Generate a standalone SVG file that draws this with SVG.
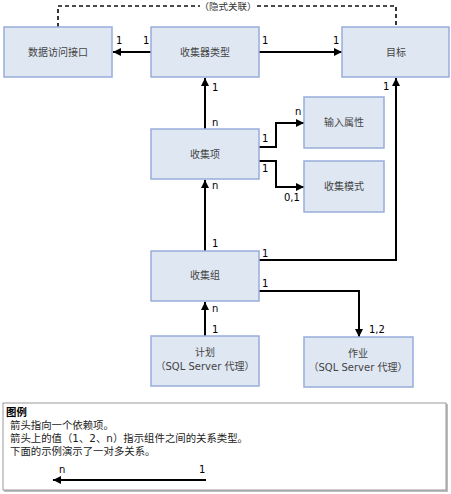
<svg xmlns="http://www.w3.org/2000/svg" width="451" height="494" viewBox="0 0 451 494">
<defs>
<marker id="ah" viewBox="0 0 10 10" refX="10" refY="5" markerWidth="8" markerHeight="8" markerUnits="userSpaceOnUse" orient="auto">
<path d="M0,0 L10,5 L0,10 z" fill="#000"/>
</marker>
</defs>
<style>
.box{fill:#dfe7f3;stroke:#98addb;stroke-width:1.5}
.t{font-family:"DejaVu Sans","Noto Sans CJK SC",sans-serif;font-size:10px;fill:#444;text-anchor:middle}
.lbl{font-family:"DejaVu Sans",sans-serif;font-size:10px;fill:#000}
.c{fill:none;stroke:#000;stroke-width:2}
.d{fill:none;stroke:#111;stroke-width:1.7;stroke-dasharray:4,3}
.lt{font-family:"DejaVu Sans","Noto Sans CJK SC",sans-serif;font-size:10.4px;fill:#222}
</style>
<rect width="451" height="494" fill="#fff"/>
<g id="connectors">
<path class="d" d="M58,27 V6 H200"/>
<path class="d" d="M257,6 H396 V27"/>
<text class="t" x="228" y="10" style="fill:#333;font-size:9.5px">（隐式关联）</text>
<path class="c" d="M151,52 H113" marker-end="url(#ah)"/>
<path class="c" d="M259,52 H342" marker-end="url(#ah)"/>
<path class="c" d="M205,129 V78" marker-end="url(#ah)"/>
<path class="c" d="M259,147 H276 V123 H304" marker-end="url(#ah)"/>
<path class="c" d="M259,161 H276 V187 H304" marker-end="url(#ah)"/>
<path class="c" d="M205,251 V180" marker-end="url(#ah)"/>
<path class="c" d="M259,260 H396 V78" marker-end="url(#ah)"/>
<path class="c" d="M259,291 H359 V337" marker-end="url(#ah)"/>
<path class="c" d="M205,336 V302" marker-end="url(#ah)"/>
<text class="lbl" x="116" y="44">1</text>
<text class="lbl" x="143" y="44">1</text>
<text class="lbl" x="262" y="44">1</text>
<text class="lbl" x="333" y="44">1</text>
<text class="lbl" x="212" y="91">1</text>
<text class="lbl" x="212" y="126">n</text>
<text class="lbl" x="383" y="90">1</text>
<text class="lbl" x="262" y="142">1</text>
<text class="lbl" x="295" y="115">n</text>
<text class="lbl" x="262" y="172">1</text>
<text class="lbl" x="284" y="201">0,1</text>
<text class="lbl" x="212" y="189">n</text>
<text class="lbl" x="212" y="247">1</text>
<text class="lbl" x="262" y="257">1</text>
<text class="lbl" x="262" y="287">1</text>
<text class="lbl" x="369" y="333">1,2</text>
<text class="lbl" x="212" y="312">n</text>
<text class="lbl" x="212" y="333">1</text>
</g>
<g id="n-dai">
<rect class="box" x="4" y="27" width="108" height="50"/>
<text class="t" x="58" y="56">数据访问接口</text>
</g>
<g id="n-ctype">
<rect class="box" x="151" y="27" width="108" height="50"/>
<text class="t" x="205" y="56">收集器类型</text>
</g>
<g id="n-target">
<rect class="box" x="342" y="27" width="107" height="50"/>
<text class="t" x="396" y="56">目标</text>
</g>
<g id="n-item">
<rect class="box" x="151" y="129" width="108" height="50"/>
<text class="t" x="205" y="158">收集项</text>
</g>
<g id="n-input">
<rect class="box" x="304" y="97" width="80" height="51"/>
<text class="t" x="344" y="126">输入属性</text>
</g>
<g id="n-mode">
<rect class="box" x="304" y="161" width="80" height="51"/>
<text class="t" x="344" y="190">收集模式</text>
</g>
<g id="n-set">
<rect class="box" x="151" y="251" width="108" height="50"/>
<text class="t" x="205" y="279">收集组</text>
</g>
<g id="n-schedule">
<rect class="box" x="151" y="336" width="108" height="50"/>
<text class="t" x="205" y="356">计划</text>
<text class="t" x="205" y="370">（SQL Server 代理）</text>
</g>
<g id="n-job">
<rect class="box" x="304" y="337" width="109" height="50"/>
<text class="t" x="358" y="357">作业</text>
<text class="t" x="358" y="371">（SQL Server 代理）</text>
</g>
<g id="legend">
<rect x="4" y="404" width="444" height="88" fill="#bbb"/>
<rect x="3" y="403" width="443" height="87" fill="#fff" stroke="#999" stroke-width="1"/>
<text class="lt" x="6" y="416" style="font-weight:bold;fill:#000">图例</text>
<text class="lt" x="10" y="429">箭头指向一个依赖项。</text>
<text class="lt" x="10" y="442">箭头上的值（1、2、n）指示组件之间的关系类型。</text>
<text class="lt" x="10" y="455">下面的示例演示了一对多关系。</text>
<path class="c" d="M206,480 H53" marker-end="url(#ah)"/>
<text class="lbl" x="59" y="473">n</text>
<text class="lbl" x="199" y="473">1</text>
</g>
</svg>
